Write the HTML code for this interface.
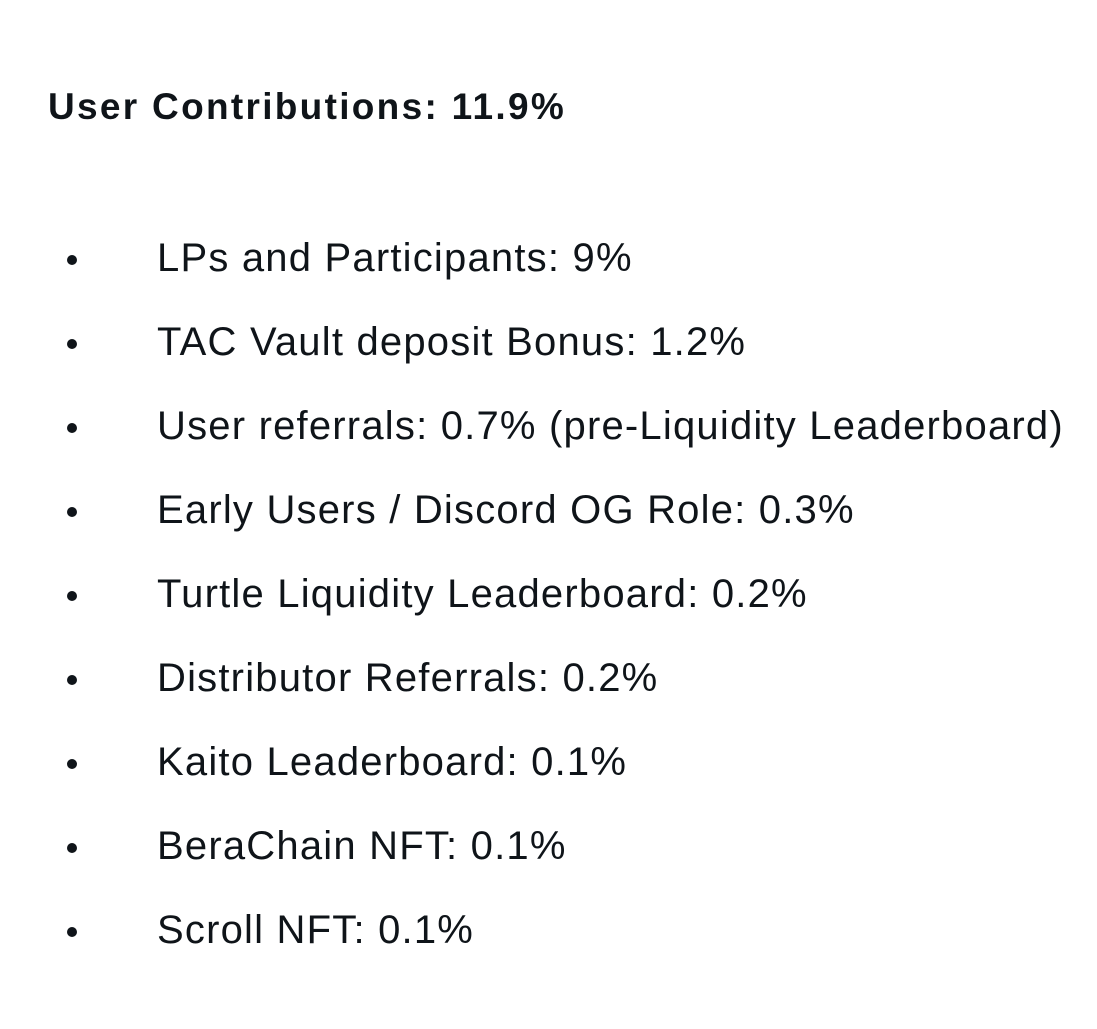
<!DOCTYPE html>
<html><head><meta charset="utf-8"><style>
html,body{margin:0;padding:0;background:#fff;}
body{width:1097px;height:1029px;position:relative;overflow:hidden;font-family:"Liberation Sans",sans-serif;color:#0f1419;}
.title{position:absolute;left:48px;top:84px;font-size:37px;font-weight:bold;line-height:46px;white-space:nowrap;letter-spacing:2.3px;}
.item{position:absolute;left:0;height:46px;line-height:46px;font-size:40px;white-space:nowrap;letter-spacing:1.2px;}
.item .b{position:absolute;left:67px;top:20px;width:10px;height:10px;border-radius:50%;background:#0f1419;}
.item .t{position:absolute;left:157px;top:0;}
</style></head><body>
<div class="title">User Contributions: 11.9%</div>
<div id="list"></div>
<script>
const labels=["LPs and Participants: 9%","TAC Vault deposit Bonus: 1.2%","User referrals: 0.7% (pre-Liquidity Leaderboard)","Early Users / Discord OG Role: 0.3%","Turtle Liquidity Leaderboard: 0.2%","Distributor Referrals: 0.2%","Kaito Leaderboard: 0.1%","BeraChain NFT: 0.1%","Scroll NFT: 0.1%"];
const list=document.getElementById('list');
labels.forEach((s,i)=>{
  const d=document.createElement('div');
  d.className='item';
  d.style.top=(235+i*84)+'px';
  
  
  const b=document.createElement('span');b.className='b';
  
  
  const t=document.createElement('span');t.className='t';t.textContent=s;
  
  
  d.appendChild(b);d.appendChild(t);list.appendChild(d);
});
</script>
</body></html>
